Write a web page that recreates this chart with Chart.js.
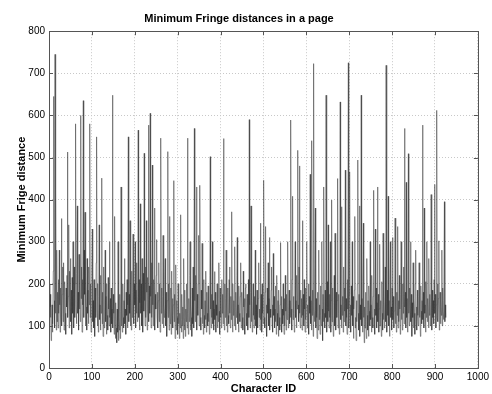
<!DOCTYPE html>
<html>
<head>
<meta charset="utf-8">
<script src="https://cdn.jsdelivr.net/npm/chart.js@4/dist/chart.umd.min.js"></script>
<style>
html,body{margin:0;padding:0;background:#fff;}
canvas{display:block;}
</style>
</head>
<body>
<canvas id="c" width="492" height="394"></canvas>
<script>
const chartTitle = "Minimum Fringe distances in a page";
const xTitle = "Character ID";
const yTitle = "Minimum Frige distance";
const xTicks = [0,100,200,300,400,500,600,700,800,900,1000];
const yTicks = [0,100,200,300,400,500,600,700,800];

// minimum fringe distance per character
const distances = [
200,145,175,120,65,100,150,85,105,230,
645,160,95,745,130,425,90,280,110,180,
95,210,130,280,150,85,190,120,355,100,
175,240,110,250,90,160,205,130,80,190,
145,220,513,120,170,340,95,230,140,260,
110,185,80,215,130,300,160,95,240,120,
200,580,150,105,225,385,130,180,90,270,
140,195,110,600,165,240,85,210,150,635,
120,280,175,370,100,220,145,90,260,130,
185,105,240,150,580,120,200,85,170,230,
330,110,160,95,210,135,75,190,120,250,
549,140,100,200,85,170,340,115,150,90,
220,130,451,105,180,75,160,240,95,140,
280,110,170,80,200,125,90,215,140,100,
300,120,165,85,190,105,140,648,95,175,
130,80,360,110,70,155,95,60,140,85,
300,65,120,90,175,70,135,430,100,150,
85,200,120,95,160,260,105,140,80,180,
125,210,95,150,549,110,175,130,350,100,
165,90,230,120,180,318,140,105,200,150,
300,95,185,130,250,110,170,565,120,210,
90,155,390,130,200,100,260,145,85,225,
135,510,160,100,240,120,350,180,90,215,
140,577,110,195,130,605,170,95,250,120,
482,150,100,210,130,380,90,175,140,220,
305,120,180,95,160,250,110,200,85,140,
546,130,190,105,170,315,95,150,120,210,
260,100,180,135,75,160,514,120,200,90,
360,140,105,190,80,230,125,165,95,150,
445,110,175,70,140,245,90,160,120,80,
200,105,150,70,130,95,364,115,85,175,
100,145,70,260,120,90,185,75,140,110,
200,95,546,130,80,165,110,220,300,90,
150,120,75,190,105,240,135,95,569,160,
110,220,140,430,90,175,125,200,315,100,
160,434,120,90,185,140,296,105,170,80,
210,125,95,160,115,230,85,180,130,100,
195,110,150,80,220,502,140,95,175,120,
300,105,160,90,140,229,115,180,85,150,
125,200,95,165,110,250,135,80,190,120,
160,95,210,130,175,105,545,140,90,200,
120,165,280,100,150,85,190,125,105,210,
240,130,95,170,115,371,140,85,200,125,
160,100,288,135,90,180,120,220,310,105,
150,85,195,130,110,170,250,95,140,180,
120,90,230,145,105,165,80,190,200,130,
100,175,135,90,210,120,590,150,95,180,
385,110,160,85,140,200,125,95,170,115,
280,100,150,80,185,130,95,165,250,120,
140,90,344,115,175,85,200,130,105,160,
446,120,95,180,336,110,150,75,190,130,
250,100,165,310,90,140,120,185,240,105,
150,85,272,125,170,95,140,110,195,80,
220,130,100,160,75,185,120,90,150,298,
110,170,85,140,105,200,125,80,165,100,
220,135,90,175,115,150,300,95,130,185,
105,160,120,589,140,90,210,408,115,170,
130,85,195,300,120,160,95,220,140,517,
150,110,240,480,130,95,185,120,165,90,
350,125,175,100,210,140,85,190,115,160,
300,95,150,120,200,80,170,130,460,105,
160,90,540,125,185,75,723,140,110,200,
380,95,165,120,70,180,135,90,280,115,
150,80,195,125,100,300,140,65,175,110,
430,130,95,185,120,648,150,85,205,110,
340,135,95,175,120,300,85,160,399,110,
190,125,75,155,220,100,320,140,90,180,
120,160,450,95,175,130,80,200,632,115,
150,95,383,125,170,85,240,110,190,135,
470,100,165,120,80,210,140,725,95,175,
466,115,150,85,195,125,300,100,170,70,
140,185,360,95,120,65,160,110,200,494,
130,90,175,385,75,150,115,648,100,165,
85,205,344,120,60,145,95,180,110,70,
260,125,90,160,75,195,135,100,300,115,
150,85,220,120,95,170,422,105,140,80,
330,125,190,95,155,430,110,175,85,140,
294,100,160,120,75,205,130,90,320,115,
170,95,145,240,110,719,135,85,185,125,
408,100,160,75,210,300,120,145,90,190,
310,115,170,95,135,200,356,105,150,85,
180,125,336,95,160,110,220,140,80,175,
300,115,150,90,200,130,240,105,569,145,
180,95,441,120,165,85,210,509,130,100,
190,140,300,110,175,75,155,120,250,95,
165,130,80,200,280,110,145,90,185,125,
100,170,250,120,140,75,195,135,105,160,
577,115,180,95,380,130,150,85,205,120,
300,110,165,140,95,260,125,175,100,150,
412,135,90,185,120,160,105,210,436,130,
175,95,150,612,120,200,110,165,302,90,
145,180,105,160,125,280,100,190,135,115,
160,395,110,150,120
];

const points = distances.map((v, i) => ({x: i + 1, y: v}));

const framePlugin = {
  id: 'frame',
  afterDraw(chart) {
    const {ctx, chartArea: a, scales} = chart;
    ctx.save();
    ctx.strokeStyle = '#555';
    ctx.lineWidth = 1;
    ctx.strokeRect(Math.round(a.left) + 0.5, Math.round(a.top) + 0.5,
                   Math.round(a.right - a.left), Math.round(a.bottom - a.top));
    ctx.beginPath();
    const L = 4;
    xTicks.forEach(t => {
      const px = Math.round(scales.x.getPixelForValue(t)) + 0.5;
      ctx.moveTo(px, a.bottom); ctx.lineTo(px, a.bottom - L);
      ctx.moveTo(px, a.top); ctx.lineTo(px, a.top + L);
    });
    yTicks.forEach(t => {
      const py = Math.round(scales.y.getPixelForValue(t)) + 0.5;
      ctx.moveTo(a.left, py); ctx.lineTo(a.left + L, py);
      ctx.moveTo(a.right, py); ctx.lineTo(a.right - L, py);
    });
    ctx.stroke();
    ctx.restore();
  }
};

const tickFont = {family: '"Liberation Sans", Arial, sans-serif', size: 10};
const boldFont = {family: '"Liberation Sans", Arial, sans-serif', size: 11, weight: 'bold', lineHeight: 1.2};

new Chart(document.getElementById('c'), {
  type: 'line',
  data: {
    datasets: [{
      data: points,
      borderColor: '#333',
      borderWidth: 0.5,
      pointRadius: 0,
      tension: 0,
      fill: false
    }]
  },
  options: {
    responsive: false,
    animation: false,
    devicePixelRatio: 1,
    layout: {padding: {left: 0, right: 14, top: 0, bottom: 0}},
    plugins: {
      legend: {display: false},
      tooltip: {enabled: false},
      title: {
        display: true,
        text: chartTitle,
        color: '#000',
        font: boldFont,
        padding: {top: 12, bottom: 6}
      }
    },
    scales: {
      x: {
        type: 'linear',
        min: 0, max: 1000,
        afterBuildTicks(s) { s.ticks = xTicks.map(v => ({value: v})); },
        afterFit(s) { s.height = 26; },
        ticks: {color: '#000', font: tickFont, padding: 3, maxRotation: 0, autoSkip: false,
                callback: v => String(v)},
        grid: {color: '#c8c8c8', drawTicks: false},
        border: {display: false, dash: [1, 2]},
        title: {display: true, text: xTitle, color: '#000',
                font: {family: boldFont.family, size: 11, weight: 'bold', lineHeight: 1},
                padding: {top: 0, bottom: 0}}
      },
      y: {
        type: 'linear',
        min: 0, max: 800,
        afterBuildTicks(s) { s.ticks = yTicks.map(v => ({value: v})); },
        afterFit(s) { s.width = 49; },
        ticks: {color: '#000', font: tickFont, padding: 4, autoSkip: false,
                callback: v => String(v)},
        grid: {color: '#c8c8c8', drawTicks: false},
        border: {display: false, dash: [1, 2]},
        title: {display: true, text: yTitle, color: '#000',
                font: {family: boldFont.family, size: 11, weight: 'bold', lineHeight: 1.2},
                padding: {top: 15, bottom: 0}}
      }
    }
  },
  plugins: [framePlugin]
});
</script>
</body>
</html>
